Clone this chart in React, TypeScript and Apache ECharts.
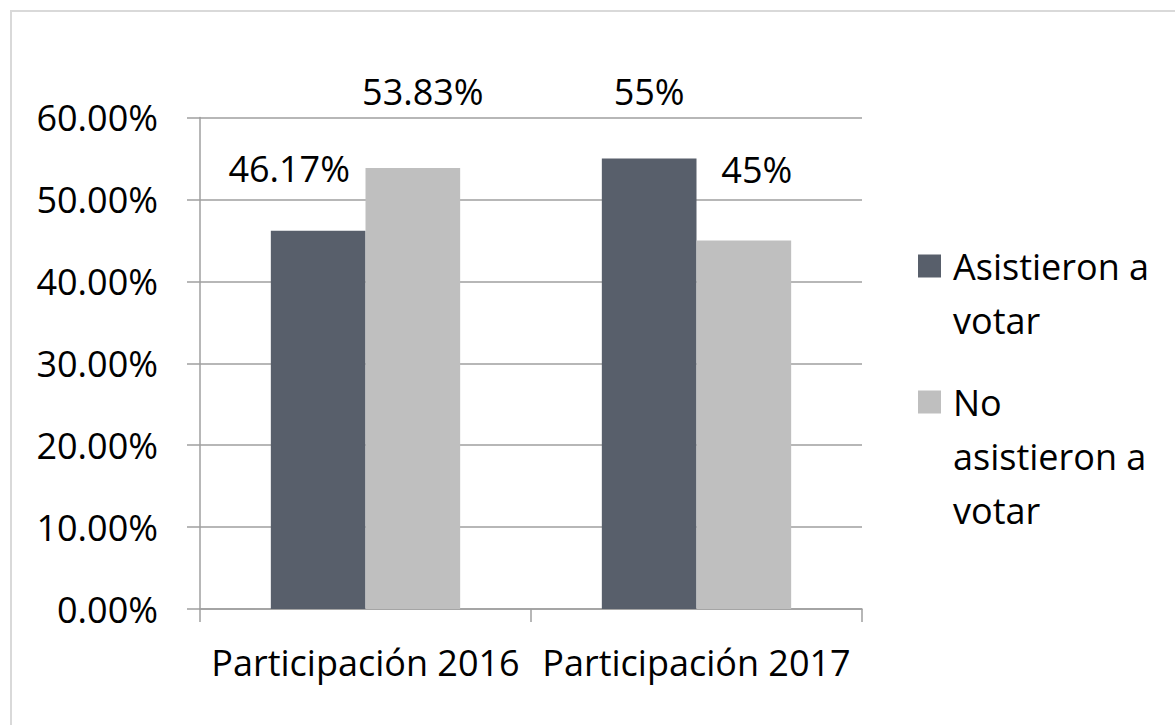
import React, { useEffect, useRef } from "react";
import * as echarts from "echarts";

const categories = ["Participación 2016", "Participación 2017"];
const seriesNames = ["Asistieron a votar", "No asistieron a votar"];
const legendLines = [["Asistieron a", "votar"], ["No", "asistieron a", "votar"]];
const asistieron = [46.17, 55];
const noAsistieron = [53.83, 45];
const yTicks = [0, 10, 20, 30, 40, 50, 60];
const colors = ["#585f6b", "#bfbfbf"];

// label placement tweaks (per series, per category) – layout only
const labelOffsets = [
  [[-29, -39], [0, -44]],
  [[10, -54], [13, -48]],
];

const FONT = "'Open Sans', sans-serif";
const FS = 36;

export default function App() {
  const ref = useRef<HTMLDivElement>(null);
  useEffect(() => {
    if (!ref.current) return;
    const chart = echarts.init(ref.current, undefined, { renderer: "svg" });
    const values = [asistieron, noAsistieron];
    const gridLeft = 200;
    const gridTop = 117.5;
    const gridW = 662;
    const gridH = 491.5;
    const legendGraphics: any[] = [];
    const legendTops = [239, 375];
    legendLines.forEach((lines, i) => {
      legendGraphics.push({
        type: "rect",
        shape: { x: 918, y: legendTops[i] + 27 - 11.5, width: 23, height: 23 },
        style: { fill: colors[i] },
      });
      legendGraphics.push({
        type: "text",
        x: 953,
        y: legendTops[i],
        style: {
          text: lines.join("\n"),
          font: `${FS}px ${FONT}`,
          fill: "#000",
          lineHeight: 54,
          verticalAlign: "top",
          align: "left",
        },
      });
    });
    chart.setOption({
      animation: false,
      backgroundColor: "#ffffff",
      textStyle: { fontFamily: FONT },
      grid: {
        left: gridLeft,
        top: gridTop,
        width: gridW,
        height: gridH,
        containLabel: false,
        outerBoundsMode: "none",
      },
      xAxis: {
        type: "category",
        data: categories,
        axisLine: { show: true, lineStyle: { color: "#9f9f9f", width: 1.5 } },
        axisTick: { show: true, length: 13, lineStyle: { color: "#9f9f9f", width: 1.5 } },
        axisLabel: { color: "#000", fontSize: FS, fontFamily: FONT, margin: 35, interval: 0 },
      },
      yAxis: {
        type: "value",
        min: yTicks[0],
        max: yTicks[yTicks.length - 1],
        interval: 10,
        axisLine: { show: true, lineStyle: { color: "#9f9f9f", width: 1.5 } },
        axisTick: { show: true, length: 13, lineStyle: { color: "#9f9f9f", width: 1.5 } },
        splitLine: { show: true, lineStyle: { color: "#9f9f9f", width: 1.5 } },
        axisLabel: {
          color: "#000",
          fontSize: FS,
          fontFamily: FONT,
          margin: 42,
          formatter: (v: number) => v.toFixed(2) + "%",
        },
      },
      series: values.map((vals, si) => ({
        type: "bar",
        name: seriesNames[si],
        barGap: "0%",
        barCategoryGap: "42.8%",
        itemStyle: { color: colors[si] },
        data: vals.map((v, ci) => ({
          value: v,
          label: {
            show: true,
            position: "top",
            offset: labelOffsets[si][ci],
            formatter: `${v}%`,
            color: "#000",
            fontSize: FS,
            fontFamily: FONT,
          },
        })),
      })),
      graphic: [
        {
          type: "rect",
          shape: { x: 11, y: 11, width: 1300, height: 900 },
          style: { fill: "none", stroke: "#d9d9d9", lineWidth: 2 },
          silent: true,
        },
        ...legendGraphics,
      ],
    });
    return () => chart.dispose();
  }, []);
  return (
    <div
      ref={ref}
      style={{ position: "absolute", left: 0, top: 0, width: 1175, height: 725 }}
    />
  );
}
